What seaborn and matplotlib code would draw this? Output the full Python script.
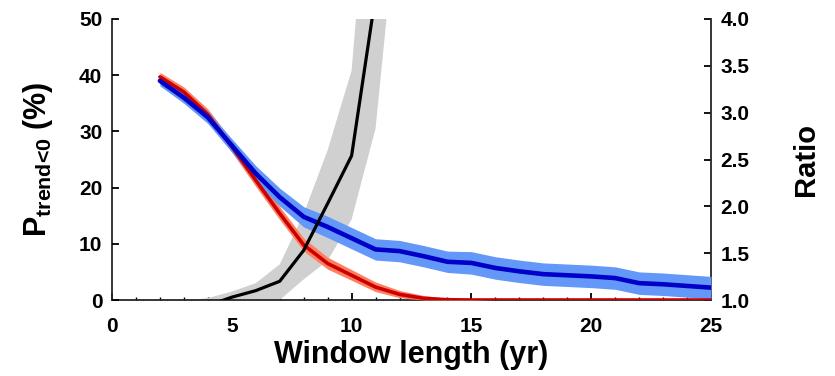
import matplotlib
matplotlib.use("Agg")
import matplotlib.pyplot as plt
import seaborn as sns
import numpy as np

# ---- data ----
window = [2, 3, 4, 5, 6, 7, 8, 9, 10, 11, 12, 13, 14, 15, 16, 17, 18, 19, 20, 21, 22, 23, 24, 25]

blue_mid = [39.0, 36.0, 32.5, 27.5, 22.5, 18.3, 14.8, 13.0, 11.0, 9.0, 8.7, 7.8, 6.8, 6.6, 5.7, 5.1, 4.6, 4.4, 4.2, 3.9, 3.0, 2.8, 2.5, 2.2]
blue_lo = [38.1, 35.0, 31.4, 26.3, 21.1, 16.7, 13.0, 11.1, 9.1, 7.1, 6.8, 5.9, 4.9, 4.6, 3.7, 3.1, 2.6, 2.4, 2.2, 1.9, 1.0, 0.8, 0.5, 0.2]
blue_hi = [39.9, 37.0, 33.6, 28.7, 23.9, 19.9, 16.6, 14.9, 12.9, 10.9, 10.6, 9.7, 8.7, 8.6, 7.7, 7.1, 6.6, 6.4, 6.2, 5.9, 5.0, 4.8, 4.5, 4.2]

red_mid = [39.7, 37.0, 33.0, 27.3, 21.3, 15.4, 9.8, 6.5, 4.4, 2.3, 1.0, 0.3, 0.05, 0.0, 0.0, 0.0, 0.0, 0.0, 0.0, 0.0, 0.0, 0.0, 0.0, 0.0]
red_lo = [39.0, 36.2, 32.1, 26.3, 20.2, 14.3, 8.7, 5.5, 3.5, 1.5, 0.4, 0.0, 0.0, 0.0, 0.0, 0.0, 0.0, 0.0, 0.0, 0.0, 0.0, 0.0, 0.0, 0.0]
red_hi = [40.5, 37.9, 34.0, 28.4, 22.5, 16.6, 11.0, 7.6, 5.4, 3.2, 1.7, 0.8, 0.3, 0.1, 0.0, 0.0, 0.0, 0.0, 0.0, 0.0, 0.0, 0.0, 0.0, 0.0]

ratio_window = [2, 3, 4, 5, 6, 7, 8, 9, 10, 11, 12]
ratio_mid = [0.70, 0.80, 0.94, 1.03, 1.10, 1.20, 1.53, 2.03, 2.54, 4.25, 7.0]
ratio_lo = [0.50, 0.60, 0.70, 0.80, 0.90, 1.00, 1.22, 1.42, 1.86, 2.83, 5.4]
ratio_hi = [0.98, 0.99, 1.02, 1.09, 1.18, 1.38, 1.92, 2.60, 3.45, 6.5, 10.0]

x_ticks = [0, 5, 10, 15, 20, 25]
p_ticks = [0, 10, 20, 30, 40, 50]
ratio_ticks = [1.0, 1.5, 2.0, 2.5, 3.0, 3.5, 4.0]

# ---- style ----
sns.set_style("ticks")
plt.rcParams["font.family"] = ["Liberation Sans", "DejaVu Sans"]
plt.rcParams["font.weight"] = "bold"
plt.rcParams["text.color"] = "black"
plt.rcParams["axes.labelcolor"] = "black"
plt.rcParams["xtick.color"] = "black"
plt.rcParams["ytick.color"] = "black"
plt.rcParams["mathtext.fontset"] = "custom"
plt.rcParams["mathtext.rm"] = "Liberation Sans:bold"
plt.rcParams["mathtext.bf"] = "Liberation Sans:bold"
plt.rcParams["mathtext.it"] = "Liberation Sans:bold"
plt.rcParams["mathtext.default"] = "rm"

fig = plt.figure(figsize=(8.35, 3.76), dpi=100)
rect = [112 / 835, 76 / 376, (711 - 112) / 835, (300 - 19) / 376]

# bottom layer: ratio band
ax_r = fig.add_axes(rect)
ax_r.fill_between(ratio_window, ratio_lo, ratio_hi, color="#d0d0d0", lw=0)
ax_r.set_ylim(1.0, 4.0)

# middle layer: probabilities
ax_p = ax_r.twinx()
ax_p.fill_between(window, red_lo, red_hi, color="#ff8060", lw=0)
sns.lineplot(x=window, y=red_mid, ax=ax_p, color="#cc0000", lw=2.6)
ax_p.fill_between(window, blue_lo, blue_hi, color="#6398f8", lw=0)
sns.lineplot(x=window, y=blue_mid, ax=ax_p, color="#0000c8", lw=3.3)
ax_p.set_ylim(0, 50)

# top layer: ratio line
ax_l = ax_r.twinx()
sns.lineplot(x=ratio_window, y=ratio_mid, ax=ax_l, color="black", lw=2.3)
ax_l.set_ylim(1.0, 4.0)
ax_l.set_yticks([])
ax_l.set_ylabel("")

ax_r.set_xlim(0, 25)

# axes placement: P on the left, ratio on the right
ax_p.yaxis.tick_left()
ax_p.yaxis.set_label_position("left")
ax_r.yaxis.tick_right()
ax_r.yaxis.set_label_position("right")

for a in (ax_r, ax_p, ax_l):
    a.patch.set_visible(False)
    for s in a.spines.values():
        s.set_visible(False)

for s in ("bottom", "right", "left"):
    ax_r.spines[s].set_visible(True)
    ax_r.spines[s].set_linewidth(1.3)
    ax_r.spines[s].set_zorder(10)

ax_r.set_xticks(x_ticks)
ax_r.set_xticklabels([str(t) for t in x_ticks])
ax_r.set_xticks(range(0, 26), minor=True)
ax_r.set_yticks(ratio_ticks)
ax_r.set_yticklabels([f"{t:.1f}" for t in ratio_ticks])
ax_p.set_yticks(p_ticks)
ax_p.set_yticklabels([str(t) for t in p_ticks])

ax_r.tick_params(axis="x", which="major", direction="in", length=5, width=1.3,
                 labelsize=15, pad=12, top=False, bottom=True, labelbottom=True)
ax_r.tick_params(axis="x", which="minor", direction="in", length=2.5, width=1.0,
                 top=False, bottom=True)
ax_r.tick_params(axis="y", which="major", direction="in", length=5, width=1.3,
                 labelsize=15, pad=7, left=False, right=True, labelright=True, labelleft=False)
ax_p.tick_params(axis="y", which="major", direction="in", length=5, width=1.3,
                 labelsize=15, pad=7, left=True, right=False, labelleft=True, labelright=False)

for lab in ax_r.get_xticklabels() + ax_r.get_yticklabels() + ax_p.get_yticklabels():
    lab.set_fontweight("bold")

ax_r.set_xlabel("Window length (yr)", fontsize=22, fontweight="bold", labelpad=3)
ax_r.set_ylabel("Ratio", fontsize=21, fontweight="bold", labelpad=30)
ax_p.set_ylabel(r"P$_{\mathrm{trend}\text{<}0}$ (%)", fontsize=22, fontweight="bold", labelpad=17)

fig.savefig("out.png", dpi=100)
